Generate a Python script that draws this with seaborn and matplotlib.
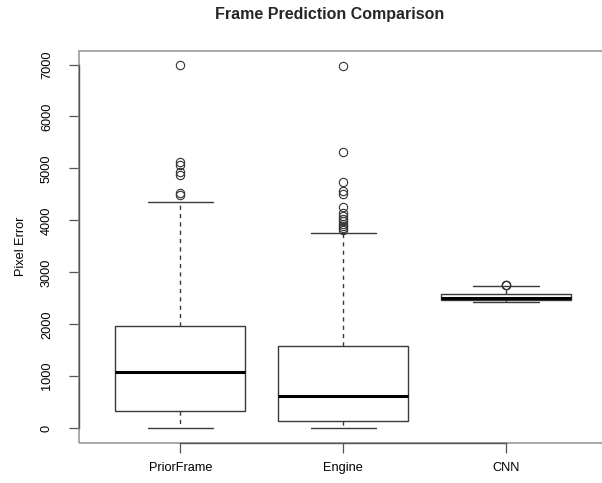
import numpy as np
import pandas as pd
import matplotlib
matplotlib.use("Agg")
import matplotlib.pyplot as plt
from matplotlib.patches import Rectangle
import seaborn as sns

# ---- data ----
categories = ["PriorFrame", "Engine", "CNN"]
# [lower whisker, Q1, median, Q3, upper whisker]
prior_stats = [0, 333, 1077, 1967, 4358]
engine_stats = [0, 135, 627, 1590, 3760]
cnn_stats = [2423, 2470, 2512, 2580, 2740]
prior_outliers = [4481, 4531, 4871, 4935, 5063, 5127, 6987]
engine_outliers = [3810, 3850, 3900, 3940, 3990, 4030, 4080, 4135,
                   4262, 4505, 4570, 4742, 5308, 6967]
cnn_outliers = [2760, 2762, 2758]
y_ticks = [0, 1000, 2000, 3000, 4000, 5000, 6000, 7000]

# Build sample sets whose quartiles reproduce the read statistics
counts = [1, 20, 20, 20, 1]
rows = []
for cat, st, out in zip(categories,
                        [prior_stats, engine_stats, cnn_stats],
                        [prior_outliers, engine_outliers, cnn_outliers]):
    vals = list(np.repeat(st, counts)) + list(out)
    rows += [(cat, v) for v in vals]
df = pd.DataFrame(rows, columns=["method", "error"])

sns.set_theme(style="ticks")
plt.rcParams["font.family"] = ["Liberation Sans", "DejaVu Sans"]

fig = plt.figure(figsize=(6.02, 4.83), dpi=100)
W, H = 602, 483
x0, x1, y0, y1 = 79.3, 607.0, 50.7, 442.7
ax = fig.add_axes([x0 / W, 1 - y1 / H, (x1 - x0) / W, (y1 - y0) / H])

box_col = "#3a3a3a"
sns.boxplot(data=df, x="method", y="error", order=categories, ax=ax,
            width=0.8, color="white", linecolor=box_col, linewidth=1.0,
            whis=1.5, fliersize=6,
            medianprops=dict(color="black", linewidth=2.2),
            whiskerprops=dict(color=box_col, linewidth=1.0, linestyle=(0, (3, 3))),
            capprops=dict(color=box_col, linewidth=1.0),
            flierprops=dict(marker="o", markerfacecolor="none",
                            markeredgecolor="#333333", markeredgewidth=0.8))

ymax = max(prior_outliers + engine_outliers)
ax.set_ylim(-0.04 * ymax, 1.04 * ymax)
ax.set_xlim(-0.62, 2.62)
ax.set_yticks(y_ticks)
ax.set_yticklabels([str(t) for t in y_ticks], rotation=90, va="center")
ax.set_xlabel("")
ax.set_ylabel("Pixel Error", fontsize=9.2, labelpad=10, color="black")

for s in ax.spines.values():
    s.set_visible(False)
frame = Rectangle((0, 0), 1, 1, transform=ax.transAxes, fill=False,
                  edgecolor="#9a9a9a", linewidth=1.2, zorder=5, clip_on=False)
ax.add_patch(frame)
ax.spines["left"].set_visible(True)
ax.spines["left"].set_bounds(0, 7000)
ax.spines["left"].set_color("#555555")
ax.spines["left"].set_linewidth(1.0)
ax.spines["left"].set_zorder(6)
ax.spines["bottom"].set_visible(True)
ax.spines["bottom"].set_bounds(0, 2)
ax.spines["bottom"].set_color("#555555")
ax.spines["bottom"].set_linewidth(1.0)
ax.spines["bottom"].set_zorder(6)

ax.tick_params(axis="both", which="both", direction="out", length=7,
               width=0.9, color="#555555", labelsize=9.2, labelcolor="black",
               bottom=True, left=True, top=False, right=False)
ax.tick_params(axis="y", pad=12)
ax.tick_params(axis="x", pad=7)
ax.grid(False)

fig.text(330 / W, 1 - 15 / H, "Frame Prediction Comparison", ha="center",
         va="center", fontsize=11.5, fontweight="bold")

fig.savefig("out.png", dpi=100)
